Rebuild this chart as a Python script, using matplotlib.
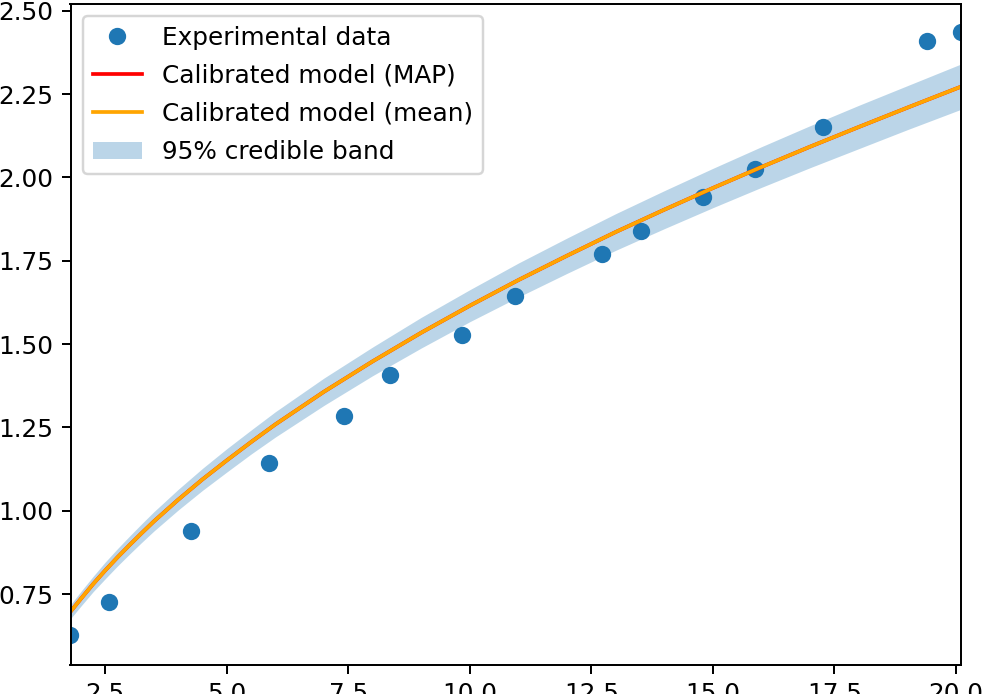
import matplotlib
matplotlib.use("Agg")
import matplotlib.pyplot as plt

x_data = [1.784, 2.576, 4.269, 5.861, 7.404, 8.365, 9.844, 10.92, 12.71, 13.53,
          14.79, 15.87, 17.26, 19.40, 20.103]
y_data = [0.627, 0.725, 0.940, 1.144, 1.284, 1.408, 1.526, 1.645, 1.770, 1.840,
          1.942, 2.024, 2.152, 2.410, 2.437]

# Calibrated model curve samples
x_model = [1.784, 2.0, 2.25, 2.5, 2.75, 3.0, 3.25, 3.5, 4.0, 4.5, 5.0, 5.5, 6.0,
           7.0, 8.0, 9.0, 10.0, 11.0, 12.0, 13.0, 14.0, 15.0, 16.0, 17.0, 18.0,
           19.0, 20.103]
y_map = [0.697, 0.736, 0.780, 0.821, 0.860, 0.897, 0.933, 0.968, 1.033, 1.094,
         1.151, 1.206, 1.259, 1.357, 1.448, 1.534, 1.615, 1.692, 1.765, 1.836,
         1.903, 1.968, 2.031, 2.092, 2.151, 2.209, 2.272]
y_mean = [0.697, 0.736, 0.780, 0.821, 0.860, 0.897, 0.933, 0.968, 1.033, 1.094,
          1.151, 1.206, 1.259, 1.357, 1.448, 1.534, 1.615, 1.692, 1.765, 1.836,
          1.903, 1.968, 2.031, 2.092, 2.151, 2.209, 2.272]
band_lower = [0.676, 0.714, 0.757, 0.796, 0.834, 0.870, 0.905, 0.939, 1.002, 1.061,
              1.116, 1.170, 1.221, 1.316, 1.405, 1.488, 1.567, 1.641, 1.712, 1.781,
              1.846, 1.909, 1.970, 2.029, 2.086, 2.143, 2.204]
band_upper = [0.718, 0.758, 0.803, 0.846, 0.886, 0.924, 0.961, 0.997, 1.064, 1.127,
              1.186, 1.242, 1.297, 1.398, 1.491, 1.580, 1.663, 1.743, 1.818, 1.891,
              1.960, 2.027, 2.092, 2.155, 2.216, 2.275, 2.340]

xticks = [2.5, 5.0, 7.5, 10.0, 12.5, 15.0, 17.5, 20.0]
yticks = [0.75, 1.00, 1.25, 1.50, 1.75, 2.00, 2.25, 2.50]

DPI = 178
fig = plt.figure(figsize=(982 / DPI, 694 / DPI), dpi=DPI)
ax = fig.add_axes([70.5 / 982, (694 - 665) / 694, (961 - 70.5) / 982, (665 - 3.5) / 694])

ax.plot(x_data, y_data, 'o', color='#1f77b4', label='Experimental data')
ax.plot(x_model, y_map, color='red', label='Calibrated model (MAP)')
ax.plot(x_model, y_mean, color='orange', label='Calibrated model (mean)')
ax.fill_between(x_model, band_lower, band_upper, color='#1f77b4', alpha=0.3,
                linewidth=0, label='95% credible band')

ax.set_xlim(1.784, 20.103)
ax.set_ylim(0.537, 2.5215)
ax.set_xticks(xticks)
ax.set_yticks(yticks)
ax.legend(loc='upper left', labelspacing=0.57)

fig.savefig('out.png', dpi=DPI)
